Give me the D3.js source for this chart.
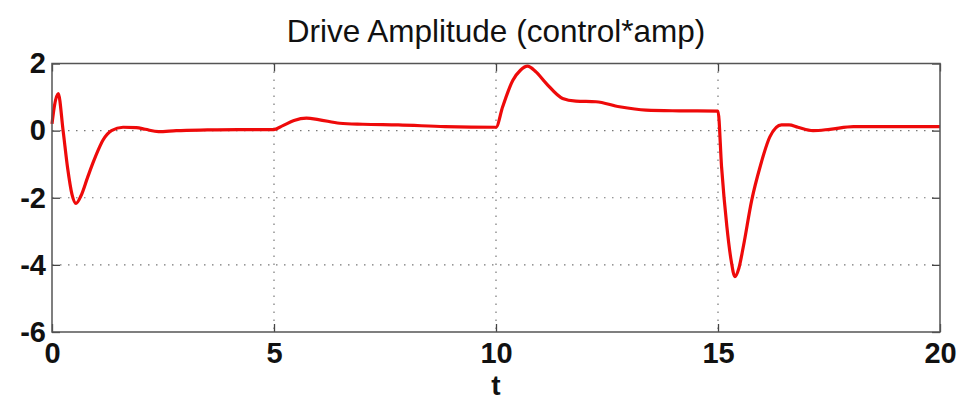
<!DOCTYPE html>
<html>
<head>
<meta charset="utf-8">
<script src="https://cdn.jsdelivr.net/npm/d3@7"></script>
<style>
  body { margin: 0; background: #fff; }
  text { font-family: "Liberation Sans", Arial, sans-serif; }
</style>
</head>
<body>
<svg id="chart" width="962" height="401"></svg>
<script>
// values
var tValues = [0, 0.05, 0.14, 0.25, 0.35, 0.45, 0.54, 0.65, 0.8, 0.92, 1.05, 1.15, 1.34, 1.6, 1.9, 2.1, 2.4, 2.8, 3.5, 4.2, 5.0,
  5.2, 5.45, 5.73, 6.0, 6.48, 7.0, 7.8, 8.85, 10.0,
  10.15, 10.38, 10.55, 10.71, 10.9, 11.13, 11.5, 11.8, 12.25, 12.78, 13.38, 14.13, 15.0,
  15.08, 15.2, 15.3, 15.38, 15.47, 15.57, 15.76, 15.95, 16.17, 16.43, 16.6, 16.8, 17.14, 17.52, 18.05, 19.0, 20.0];
var driveValues = [0.2, 0.7, 1.1, 0.0, -1.1, -1.9, -2.17, -1.95, -1.4, -0.97, -0.55, -0.28, 0.0, 0.1, 0.09, 0.04, -0.03, 0.0, 0.02, 0.03, 0.03,
  0.15, 0.3, 0.37, 0.33, 0.22, 0.19, 0.17, 0.12, 0.1,
  0.71, 1.5, 1.8, 1.92, 1.75, 1.41, 0.96, 0.88, 0.86, 0.71, 0.61, 0.59, 0.58,
  -1.07, -2.86, -3.9, -4.35, -4.1, -3.46, -2.07, -1.07, -0.18, 0.17, 0.17, 0.1, 0.0, 0.04, 0.12, 0.12, 0.12];
var xTicks = [0, 5, 10, 15, 20];
var yTicks = [-6, -4, -2, 0, 2];

var svg = d3.select("#chart");
var plotLeft = 52, plotRight = 940, plotTop = 63.5, plotBottom = 332;

var x = d3.scaleLinear().domain([0, 20]).range([plotLeft, plotRight]);
var y = d3.scaleLinear().domain([-6, 2]).range([plotBottom, plotTop]);

// grid
svg.append("g").selectAll("line").data(xTicks.slice(1, -1)).enter().append("line")
    .attr("x1", function(d){ return x(d); }).attr("x2", function(d){ return x(d); })
    .attr("y1", plotTop).attr("y2", plotBottom)
    .attr("stroke", "#777").attr("stroke-width", 1.2).attr("stroke-dasharray", "1.5,6.5");
svg.append("g").selectAll("line").data(yTicks.slice(1, -1)).enter().append("line")
    .attr("y1", function(d){ return y(d); }).attr("y2", function(d){ return y(d); })
    .attr("x1", plotLeft).attr("x2", plotRight)
    .attr("stroke", "#777").attr("stroke-width", 1.2).attr("stroke-dasharray", "1.5,6.5");

// axes with inward ticks
var xAxisB = svg.append("g").attr("transform", "translate(0," + plotBottom + ")")
    .call(d3.axisBottom(x).tickValues(xTicks).tickSizeInner(-8).tickSizeOuter(0).tickPadding(10));
var xAxisT = svg.append("g").attr("transform", "translate(0," + plotTop + ")")
    .call(d3.axisTop(x).tickValues(xTicks).tickSizeInner(-8).tickSizeOuter(0).tickFormat(""));
var yAxisL = svg.append("g").attr("transform", "translate(" + plotLeft + ",0)")
    .call(d3.axisLeft(y).tickValues(yTicks).tickSizeInner(-8).tickSizeOuter(0).tickPadding(6));
var yAxisR = svg.append("g").attr("transform", "translate(" + plotRight + ",0)")
    .call(d3.axisRight(y).tickValues(yTicks).tickSizeInner(-8).tickSizeOuter(0).tickFormat(""));

[xAxisB, xAxisT, yAxisL, yAxisR].forEach(function(a){
    a.select(".domain").remove();
    a.selectAll(".tick line").attr("stroke", "#444").attr("stroke-width", 1.3);
});
xAxisB.selectAll(".tick text").attr("font-size", 29).attr("font-weight", "bold").attr("fill", "#111");
yAxisL.selectAll(".tick text").attr("font-size", 29).attr("font-weight", "bold").attr("fill", "#111");
yAxisL.selectAll(".tick text").text(function(d){ return d; });

// curve
var line = d3.line()
    .x(function(d, i){ return x(tValues[i]); })
    .y(function(d){ return y(d); })
    .curve(d3.curveMonotoneX);
svg.append("path").datum(driveValues)
    .attr("d", line)
    .attr("fill", "none").attr("stroke", "#ee0a0a").attr("stroke-width", 3.2)
    .attr("stroke-linejoin", "round");

// box
svg.append("rect").attr("x", plotLeft).attr("y", plotTop)
    .attr("width", plotRight - plotLeft).attr("height", plotBottom - plotTop)
    .attr("fill", "none").attr("stroke", "#555").attr("stroke-width", 1.5);

// labels
svg.append("text").attr("x", (plotLeft + plotRight) / 2).attr("y", 42)
    .attr("text-anchor", "middle").attr("font-size", 31.5).attr("fill", "#111")
    .text("Drive Amplitude (control*amp)");
svg.append("text").attr("x", x(10)).attr("y", 395)
    .attr("text-anchor", "middle").attr("font-size", 28).attr("font-weight", "bold").attr("fill", "#111")
    .text("t");
</script>
</body>
</html>
